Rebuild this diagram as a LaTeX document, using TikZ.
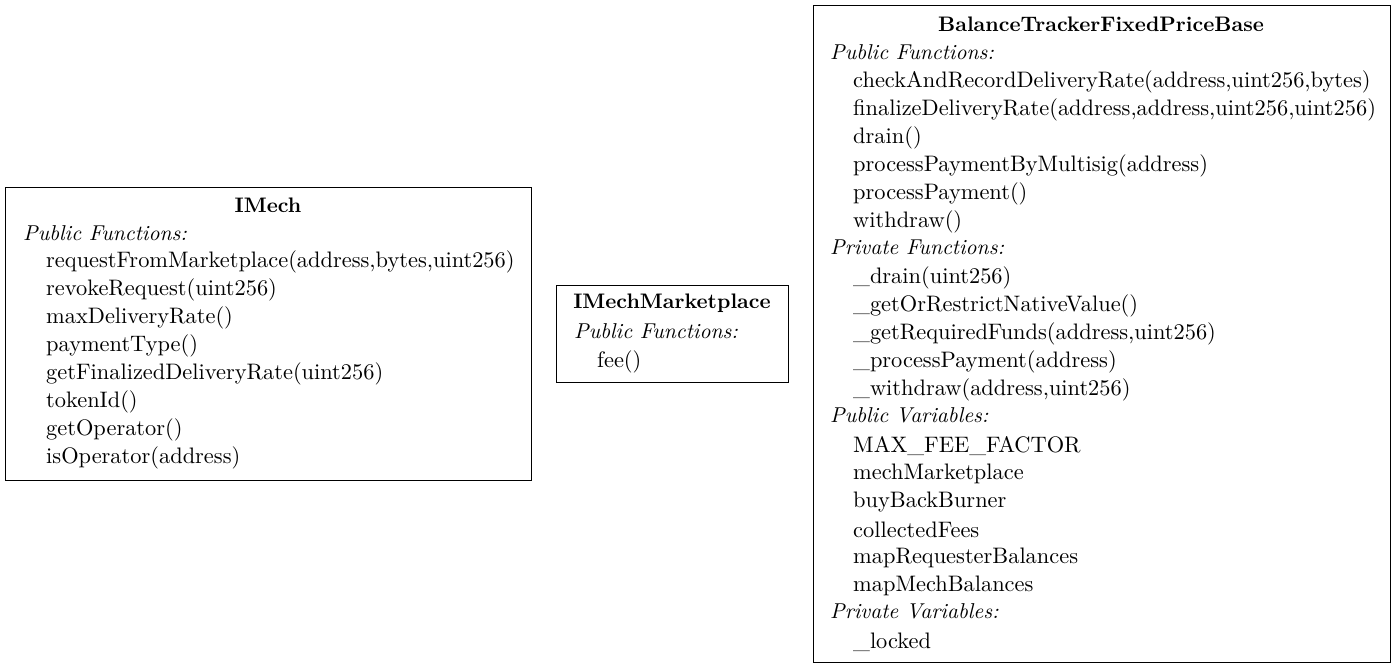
\documentclass[tikz,border=0pt]{standalone}
\usepackage{fontspec}
\setmainfont{lmroman10-regular.otf}[BoldFont=lmroman10-bold.otf,ItalicFont=lmroman10-italic.otf]
\begin{document}
\begin{tikzpicture}[x=1pt,y=-1pt,
  box/.style={draw,line width=1.2pt,inner sep=0pt,anchor=north west},
  ttl/.style={font=\fontsize{21}{24}\selectfont\bfseries,anchor=center,inner sep=0pt},
  hd/.style={font=\fontsize{21.5}{24}\selectfont\itshape,anchor=west,inner sep=0pt},
  it/.style={font=\fontsize{22.4}{24}\selectfont,anchor=west,inner sep=0pt}]
\useasboundingbox (0,0) rectangle (1397,668);
% IMech
\node[box,minimum width=526pt,minimum height=293pt] (b1) at (5,187) {};
\node[ttl] (t1) at (268,205) {IMech};
\node[hd] (h1) at (23,233) {Public Functions:};
\foreach \t [count=\i] in {{requestFromMarketplace(address,bytes,uint256)},{revokeRequest(uint256)},{maxDeliveryRate()},{paymentType()},{getFinalizedDeliveryRate(uint256)},{tokenId()},{getOperator()},{isOperator(address)}}
  \node[it] (f1-\i) at (46,{234+28*\i}) {\t};
% IMechMarketplace
\node[box,minimum width=232pt,minimum height=97pt] (b2) at (556,285) {};
\node[ttl] (t2) at (672,303) {IMechMarketplace};
\node[hd] (h2) at (574,331) {Public Functions:};
\node[it] (f2-1) at (597,362) {fee()};
% BalanceTracker
\node[box,minimum width=577pt,minimum height=657pt] (b3) at (813,5) {};
\node[ttl] (t3) at (1101,24) {BalanceTrackerFixedPriceBase};
\node[hd] (h3a) at (830,52) {Public Functions:};
\foreach \t [count=\i] in {{checkAndRecordDeliveryRate(address,uint256,bytes)},{finalizeDeliveryRate(address,address,uint256,uint256)},{drain()},{processPaymentByMultisig(address)},{processPayment()},{withdraw()}}
  \node[it] (f3a-\i) at (853,{54+28*\i}) {\t};
\node[hd] (h3b) at (830,247) {Private Functions:};
\foreach \t [count=\i] in {{\_drain(uint256)},{\_getOrRestrictNativeValue()},{\_getRequiredFunds(address,uint256)},{\_processPayment(address)},{\_withdraw(address,uint256)}}
  \node[it] (f3b-\i) at (853,{250+28*\i}) {\t};
\node[hd] (h3c) at (830,415) {Public Variables:};
\foreach \t [count=\i] in {{MAX\_FEE\_FACTOR},{mechMarketplace},{buyBackBurner},{collectedFees},{mapRequesterBalances},{mapMechBalances}}
  \node[it] (f3c-\i) at (853,{418+28*\i}) {\t};
\node[hd] (h3d) at (830,611) {Private Variables:};
\node[it] (f3d-1) at (853,642) {\_locked};
\end{tikzpicture}
\end{document}
